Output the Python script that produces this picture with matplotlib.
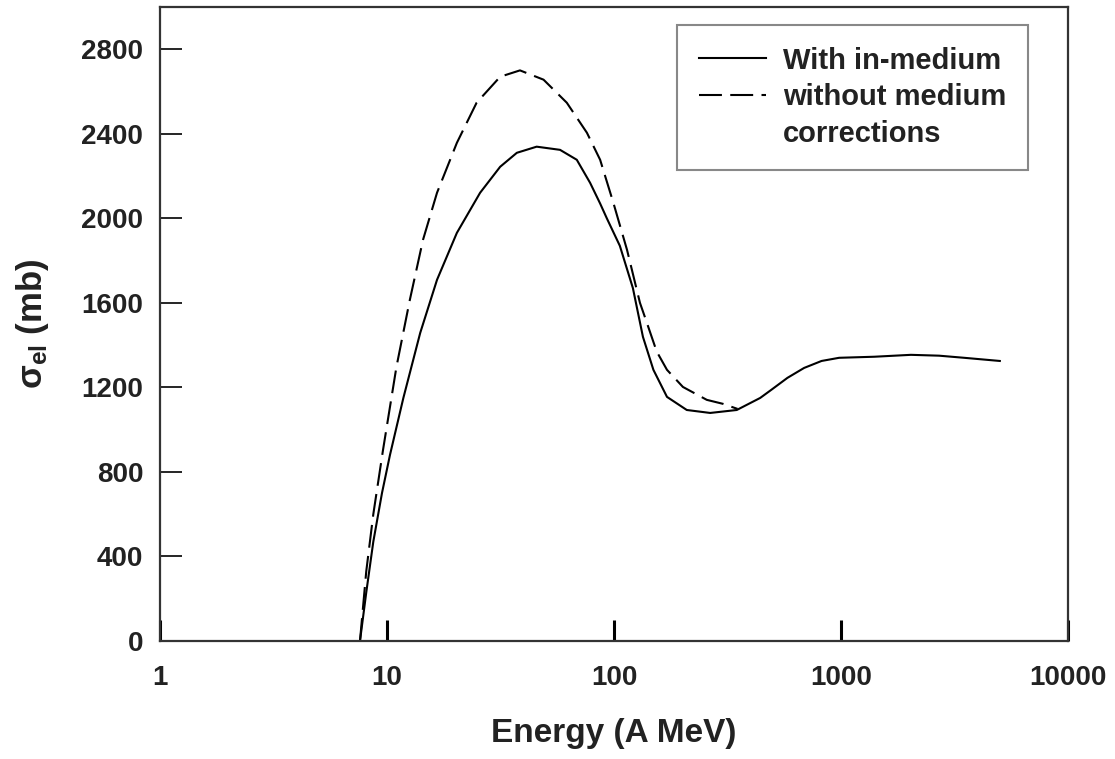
import matplotlib
matplotlib.use('Agg')
import matplotlib.pyplot as plt
from matplotlib.lines import Line2D
from matplotlib.ticker import FixedLocator, NullLocator

plt.rcParams['font.family'] = ['Liberation Sans', 'DejaVu Sans']
plt.rcParams['mathtext.fontset'] = 'custom'
plt.rcParams['mathtext.rm'] = 'Liberation Sans'
plt.rcParams['mathtext.bf'] = 'Liberation Sans:bold'
plt.rcParams['mathtext.it'] = 'Liberation Sans:italic'

# Data (energy in A MeV, sigma in mb)
energy_with = [7.6, 8.1, 8.7, 9.5, 10.3, 11.8, 14, 16.6, 20.3, 25.7, 31.5, 37.3,
               45.6, 57.8, 68.5, 78.4, 86.8, 92.9, 106, 121, 134, 149, 171, 209,
               265, 347, 440, 492, 580, 687, 820, 980, 1400, 2030, 2700, 3480,
               5000]
sigma_with = [0, 230, 470, 700, 880, 1150, 1458, 1709, 1931, 2121, 2244, 2310,
              2339, 2324, 2277, 2168, 2070, 2000, 1870, 1670, 1439, 1283, 1155,
              1093, 1079, 1093, 1150, 1188, 1245, 1292, 1325, 1340, 1345, 1354,
              1350, 1340, 1325]

energy_without = [7.6, 8.1, 8.7, 9.6, 11.0, 12.6, 14.4, 16.6, 20.3, 24.8, 31.5,
                  38.5, 48.9, 61.9, 75.9, 86.8, 99.3, 114, 130, 139, 154, 171,
                  201, 256, 302, 350]
sigma_without = [0, 330, 600, 904, 1297, 1614, 1898, 2121, 2357, 2547, 2670,
                 2700, 2656, 2547, 2405, 2277, 2073, 1851, 1600, 1510, 1370,
                 1283, 1202, 1141, 1122, 1098]

xticks = [1, 10, 100, 1000, 10000]
yticks = [0, 400, 800, 1200, 1600, 2000, 2400, 2800]

fig = plt.figure(figsize=(11.15, 7.59), dpi=100)
ax = fig.add_axes([0.1435, 0.1555, 0.8145, 0.8353])

l1, = ax.plot(energy_with, sigma_with, color='black', lw=1.5)
l2, = ax.plot(energy_without, sigma_without, color='black', lw=1.5,
              dashes=(11, 4))

ax.set_xscale('log')
ax.set_xlim(1, 10000)
ax.set_ylim(0, 3000)
ax.xaxis.set_major_locator(FixedLocator(xticks))
ax.xaxis.set_minor_locator(NullLocator())
ax.set_xticklabels([str(t) for t in xticks])
ax.set_yticks(yticks)

ax.tick_params(axis='y', direction='in', length=16, width=1.2, pad=12,
               labelsize=20)
ax.tick_params(axis='x', direction='in', length=15, width=2.2, pad=17,
               labelsize=20)
for lab in ax.get_xticklabels() + ax.get_yticklabels():
    lab.set_fontweight('bold')
    lab.set_color('#222222')

for sp in ax.spines.values():
    sp.set_linewidth(1.6)
    sp.set_color('#333333')

ax.set_xlabel('Energy (A MeV)', fontsize=24, fontweight='bold', color='#222222')
ax.xaxis.set_label_coords(0.5, -0.122)
ax.set_ylabel(r'σ$_{\mathbf{el}}$ (mb)', fontsize=25, fontweight='bold',
              color='#222222')
ax.yaxis.set_label_coords(-0.12, 0.5)

# second label wraps onto a third row with no handle
blank = Line2D([], [], color='none')
leg = ax.legend([l1, l2, blank],
                ['With in-medium', 'without medium', 'corrections'],
                loc='upper right', bbox_to_anchor=(0.956, 0.972),
                borderaxespad=0, fontsize=21, handlelength=2.3,
                handletextpad=0.6, borderpad=0.75, labelspacing=0.3,
                fancybox=False, framealpha=1, edgecolor='#888888')
leg.get_frame().set_linewidth(1.5)
for t in leg.get_texts():
    t.set_fontweight('bold')
    t.set_color('#222222')

fig.savefig('out.png', dpi=100)
